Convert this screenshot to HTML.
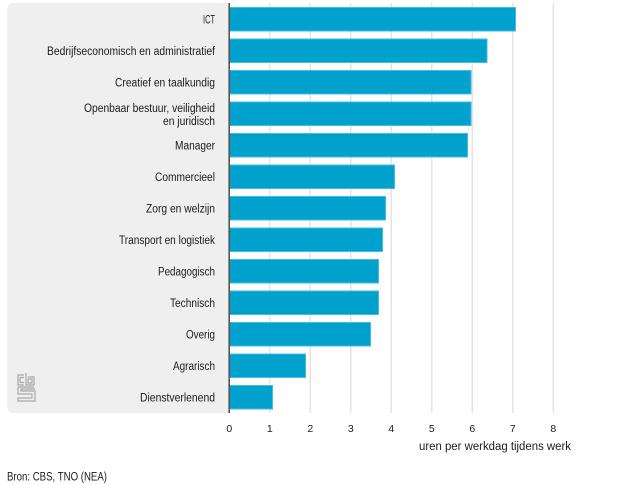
<!DOCTYPE html>
<html>
<head>
<meta charset="utf-8">
<style>
html,body{margin:0;padding:0;background:#fff;}
svg{display:block;}
text{font-family:"Liberation Sans",sans-serif;fill:#1a1a1a;}
</style>
</head>
<body>
<svg width="626" height="484" viewBox="0 0 626 484" xmlns="http://www.w3.org/2000/svg">
  <!-- left panel -->
  <rect x="7" y="3" width="230" height="410" rx="7" fill="#efefef"/>
  <rect x="229" y="3" width="10" height="410" fill="#fff"/>
  <!-- gridlines -->
  <g stroke="#e3e3e3" stroke-width="1.5">
    <line x1="269.8" y1="3" x2="269.8" y2="413"/>
    <line x1="310.3" y1="3" x2="310.3" y2="413"/>
    <line x1="350.8" y1="3" x2="350.8" y2="413"/>
    <line x1="391.3" y1="3" x2="391.3" y2="413"/>
    <line x1="431.8" y1="3" x2="431.8" y2="413"/>
    <line x1="472.3" y1="3" x2="472.3" y2="413"/>
    <line x1="512.8" y1="3" x2="512.8" y2="413"/>
    <line x1="553.3" y1="3" x2="553.3" y2="413"/>
  </g>
  <!-- bars -->
  <g fill="#00a1cd" stroke="#45bbe0" stroke-width="1">
    <rect x="229.5" y="7.5" width="286" height="23.5"/>
    <rect x="229.5" y="39" width="257.5" height="23.5"/>
    <rect x="229.5" y="70.5" width="241.5" height="23.5"/>
    <rect x="229.5" y="102" width="241.5" height="23.5"/>
    <rect x="229.5" y="133.5" width="238" height="23.5"/>
    <rect x="229.5" y="165" width="165" height="23.5"/>
    <rect x="229.5" y="196.5" width="156" height="23.5"/>
    <rect x="229.5" y="228" width="153" height="23.5"/>
    <rect x="229.5" y="259.5" width="149" height="23.5"/>
    <rect x="229.5" y="291" width="149" height="23.5"/>
    <rect x="229.5" y="322.5" width="141" height="23.5"/>
    <rect x="229.5" y="354" width="76" height="23.5"/>
    <rect x="229.5" y="385.5" width="43" height="23.5"/>
  </g>
  <!-- axis line -->
  <line x1="229.2" y1="3" x2="229.2" y2="413" stroke="#555" stroke-width="1.6"/>

  <!-- category labels -->
  <g font-size="11.5" text-anchor="end">
    <text x="215" y="23.5" textLength="12" lengthAdjust="spacingAndGlyphs">ICT</text>
    <text x="215" y="55" textLength="168" lengthAdjust="spacingAndGlyphs">Bedrijfseconomisch en administratief</text>
    <text x="215" y="86.5" textLength="100" lengthAdjust="spacingAndGlyphs">Creatief en taalkundig</text>
    <text x="215" y="112" textLength="131" lengthAdjust="spacingAndGlyphs">Openbaar bestuur, veiligheid</text>
    <text x="215" y="125" textLength="52" lengthAdjust="spacingAndGlyphs">en juridisch</text>
    <text x="215" y="149.5" textLength="40" lengthAdjust="spacingAndGlyphs">Manager</text>
    <text x="215" y="181" textLength="60" lengthAdjust="spacingAndGlyphs">Commercieel</text>
    <text x="215" y="212.5" textLength="69" lengthAdjust="spacingAndGlyphs">Zorg en welzijn</text>
    <text x="215" y="244" textLength="96" lengthAdjust="spacingAndGlyphs">Transport en logistiek</text>
    <text x="215" y="275.5" textLength="57" lengthAdjust="spacingAndGlyphs">Pedagogisch</text>
    <text x="215" y="307" textLength="45" lengthAdjust="spacingAndGlyphs">Technisch</text>
    <text x="215" y="338.5" textLength="29" lengthAdjust="spacingAndGlyphs">Overig</text>
    <text x="215" y="370" textLength="42" lengthAdjust="spacingAndGlyphs">Agrarisch</text>
    <text x="215" y="401.5" textLength="75" lengthAdjust="spacingAndGlyphs">Dienstverlenend</text>
  </g>

  <!-- cbs logo -->
  <g fill="none" stroke="#a8a8a8" stroke-width="1.2">
    <path d="M24 375 L18 375 L18 385 L24 385"/>
    <path d="M20 377.5 L24 377.5 M20 382.5 L24 382.5 M20 377.5 L20 382.5"/>
    <path d="M26 373 L26 385 L34 385 L34 377 L28 377"/>
    <path d="M28 379 L32 379 L32 383 L28 383 Z"/>
    <path d="M18 387 L34 387 M18 387 L18 394 L32 394 L32 398 L18 398 L18 401 L35 401 L35 391 L21 391 L21 389 L35 389"/>
  </g>

  <!-- x tick labels -->
  <g font-size="10.5" text-anchor="middle">
    <text x="229.3" y="432">0</text>
    <text x="269.8" y="432">1</text>
    <text x="310.3" y="432">2</text>
    <text x="350.8" y="432">3</text>
    <text x="391.3" y="432">4</text>
    <text x="431.8" y="432">5</text>
    <text x="472.3" y="432">6</text>
    <text x="512.8" y="432">7</text>
    <text x="553.3" y="432">8</text>
  </g>
  <text x="419" y="450" font-size="11.5" textLength="152" lengthAdjust="spacingAndGlyphs">uren per werkdag tijdens werk</text>

  <text x="7" y="480.5" font-size="11.5" textLength="100" lengthAdjust="spacingAndGlyphs">Bron: CBS, TNO (NEA)</text>
</svg>
</body>
</html>
